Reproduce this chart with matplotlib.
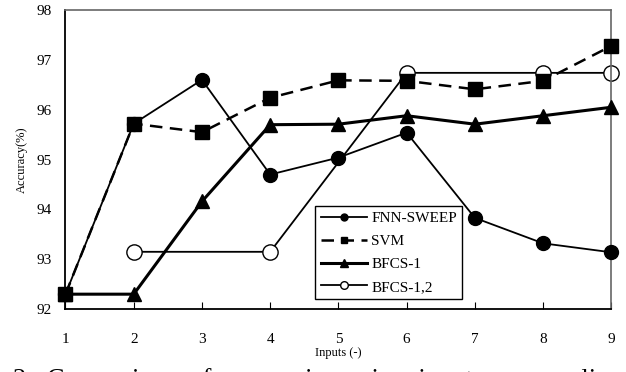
import numpy as np
import matplotlib
matplotlib.use('Agg')
import matplotlib.pyplot as plt

plt.rcParams['font.family'] = ['Liberation Serif', 'DejaVu Serif']

inputs = [1, 2, 3, 4, 5, 6, 7, 8, 9]
fnn_sweep = [92.3, 95.72, 96.6, 94.7, 95.04, 95.54, 93.83, 93.32, 93.14]
svm = [92.3, 95.72, 95.55, 96.24, 96.59, 96.58, 96.41, 96.58, 97.28]
bfcs1 = [92.3, 92.3, 94.16, 95.7, 95.71, 95.88, 95.71, 95.88, 96.05]
bfcs12_x = [2, 4, 6, 8, 9]
bfcs12 = [93.15, 93.15, 96.74, 96.74, 96.74]

fig = plt.figure(figsize=(6.26, 3.72), dpi=100)
ax = fig.add_axes([0.1046, 0.169, 0.872, 0.804])

ax.plot(inputs, fnn_sweep, 'k-', lw=1.3, marker='o', ms=10, label='FNN-SWEEP',
        clip_on=False, zorder=4)
ax.plot(inputs, svm, 'k--', lw=1.8, dashes=(5, 3), marker='s', ms=9.5, label='SVM',
        clip_on=False, zorder=3)
ax.plot(inputs, bfcs1, 'k-', lw=2.2, marker='^', ms=10.5, label='BFCS-1',
        clip_on=False, zorder=3)
ax.plot(bfcs12_x, bfcs12, 'k-', lw=1.3, marker='o', ms=11, mfc='white', mew=1,
        label='BFCS-1,2', clip_on=False, zorder=2)

ax.set_xlim(1, 9)
ax.set_ylim(92, 98)
ax.set_xticks(inputs)
ax.set_yticks(np.arange(92, 99, 1))
ax.tick_params(axis='x', direction='in', length=5, pad=17, labelsize=11)
ax.tick_params(axis='y', length=0, pad=10, labelsize=11)
for s in ['top', 'right']:
    ax.spines[s].set_color('#666666')
    ax.spines[s].set_linewidth(1.2)
for s in ['left', 'bottom']:
    ax.spines[s].set_linewidth(1.3)

ax.set_xlabel('Inputs (-)', fontsize=9, labelpad=1)
ax.set_ylabel('Accuracy(%)', fontsize=9, labelpad=6)

leg = ax.legend(loc='lower left', bbox_to_anchor=(0.444, 0.008), fontsize=11,
                markerscale=0.5, handlelength=3, handletextpad=0.3,
                labelspacing=0.6, borderpad=0.35, fancybox=False, framealpha=1)
leg.get_frame().set_edgecolor('black')
leg.get_frame().set_linewidth(1)

# figure caption, cut off by the bottom edge as in the source
fig.text(0.02, 1 - 368 / 372, '2:  Comparison  of  accuracies  using  inputs  among  lines',
         fontsize=19, va='top')

fig.savefig('out.png', dpi=100)
